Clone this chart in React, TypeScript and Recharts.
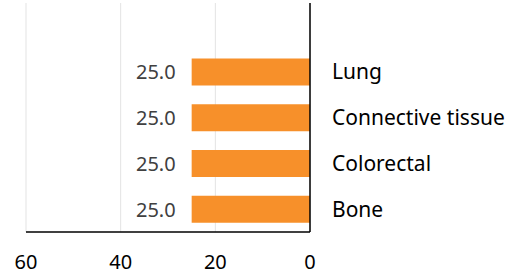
import { BarChart, Bar, XAxis, YAxis, CartesianGrid, LabelList } from "recharts";

const categories = ["Lung", "Connective tissue", "Colorectal", "Bone"];
const values = [25.0, 25.0, 25.0, 25.0];
const xTicks = [0, 20, 40, 60];

const data = categories.map((name, i) => ({ name, value: values[i] }));

const font = "Noto Sans, sans-serif";

// value label drawn to the left of the bar (x axis is reversed)
const renderValue = (props: any) => {
    const { x, y, width, height, value } = props;
    const left = Math.min(Number(x), Number(x) + Number(width));
    return (
        <text
            x={left - 16}
            y={Number(y) + Number(height) / 2}
            textAnchor="end"
            dominantBaseline="central"
            fill="#404040"
            fontSize={20}
            fontFamily={font}
        >
            {Number(value).toFixed(1)}
        </text>
    );
};

export default function App() {
    return (
        <div style={{ position: "absolute", left: 0, top: 0, width: 522, height: 279, background: "#fff" }}>
            <BarChart
                width={522}
                height={279}
                data={data}
                layout="vertical"
                margin={{ top: 3, right: 0, left: 26, bottom: 17 }}
                barCategoryGap="20.5%"
            >
                <CartesianGrid horizontal={false} stroke="#e3e3e3" strokeWidth={1} />
                <XAxis
                    type="number"
                    domain={[0, 60]}
                    ticks={xTicks}
                    reversed
                    height={30}
                    axisLine={{ stroke: "#000", strokeWidth: 1.5 }}
                    tickLine={false}
                    tickSize={0}
                    tickMargin={23}
                    interval={0}
                    tick={{ fill: "#000", fontSize: 20, fontFamily: font }}
                />
                <YAxis
                    type="category"
                    dataKey="name"
                    orientation="right"
                    width={212}
                    padding={{ top: 46 }}
                    axisLine={{ stroke: "#000", strokeWidth: 1.5 }}
                    tickLine={false}
                    tickSize={0}
                    tickMargin={22}
                    interval={0}
                    tick={{ fill: "#000", fontSize: 21, fontFamily: font, textAnchor: "start" }}
                />
                <Bar dataKey="value" fill="#F7902A" isAnimationActive={false}>
                    <LabelList dataKey="value" content={renderValue} />
                </Bar>
            </BarChart>
        </div>
    );
}
